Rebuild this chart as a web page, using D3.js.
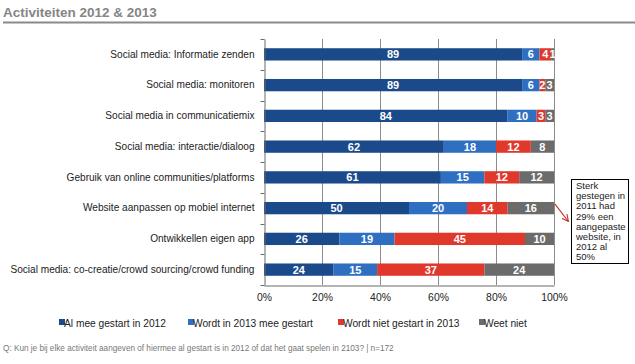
<!DOCTYPE html>
<html>
<head>
<meta charset="utf-8">
<script src="https://cdn.jsdelivr.net/npm/d3@7"></script>
<style>
  body { margin: 0; background: #fff; }
  svg { display: block; font-family: "Liberation Sans", Arial, sans-serif; }
</style>
</head>
<body>
<svg width="635" height="364"></svg>
<script>
const svg = d3.select('svg');
const width = +svg.attr('width');
const height = +svg.attr('height');
const FONT = '"Liberation Sans", Arial, sans-serif';

// data
const categories = [
  'Social media: Informatie zenden',
  'Social media: monitoren',
  'Social media in communicatiemix',
  'Social media: interactie/dialoog',
  'Gebruik van online communities/platforms',
  'Website aanpassen op mobiel internet',
  'Ontwikkellen eigen app',
  'Social media: co-creatie/crowd sourcing/crowd funding'
];
const seriesNames = ['Al mee gestart in 2012', 'Wordt in 2013 mee gestart', 'Wordt niet gestart in 2013', 'Weet niet'];
const alGestart = [89, 89, 84, 62, 61, 50, 26, 24];
const wordtGestart = [6, 6, 10, 18, 15, 20, 19, 15];
const nietGestart = [4, 2, 3, 12, 12, 14, 45, 37];
const weetNiet = [1, 3, 3, 8, 12, 16, 10, 24];
const xTicks = [0, 20, 40, 60, 80, 100];
const colors = ['#1b4a8b', '#2f6fc2', '#e0382b', '#6b6b6b'];
const noteLines = ['Sterk', 'gestegen in', '2011 had', '29% een', 'aangepaste', 'website, in', '2012 al', '50%'];

const margin = {top: 39, right: 81, bottom: 79, left: 264};
const x = d3.scaleLinear().domain([0, 100]).range([margin.left, width - margin.right]);
const y = d3.scaleBand().domain(categories).range([margin.top, height - margin.bottom]).paddingInner(0.6).paddingOuter(0.3);

const rows = categories.map((c, i) => ({cat: c, a: alGestart[i], b: wordtGestart[i], c: nietGestart[i], d: weetNiet[i]}));
const stacked = d3.stack().keys(['a', 'b', 'c', 'd'])(rows);

// title
svg.append('text')
  .attr('x', 3).attr('y', 17)
  .attr('fill', '#858585')
  .attr('font-size', 13.5).attr('font-weight', 'bold')
  .text('Activiteiten 2012 & 2013');
svg.append('line')
  .attr('x1', 3).attr('x2', width).attr('y1', 22.5).attr('y2', 22.5)
  .attr('stroke', '#8a8a8a').attr('stroke-width', 2);

// gridlines
svg.append('g').selectAll('line').data(xTicks.slice(1)).enter().append('line')
  .attr('x1', d => x(d) + 0.5).attr('x2', d => x(d) + 0.5)
  .attr('y1', margin.top).attr('y2', height - margin.bottom)
  .attr('stroke', '#8c8c8c').attr('stroke-width', 1);

// bars
const layer = svg.append('g').selectAll('g').data(stacked).enter().append('g')
  .attr('fill', (d, i) => colors[i]);
layer.selectAll('rect').data(d => d).enter().append('rect')
  .attr('x', d => x(d[0]))
  .attr('y', d => y(d.data.cat))
  .attr('width', d => x(d[1]) - x(d[0]))
  .attr('height', y.bandwidth());

// value labels
stacked.forEach(s => {
  svg.append('g').selectAll('text').data(s).enter().append('text')
    .attr('x', d => (x(d[0]) + x(d[1])) / 2)
    .attr('y', d => y(d.data.cat) + y.bandwidth() / 2 + 4)
    .attr('text-anchor', 'middle')
    .attr('fill', '#fff')
    .attr('font-size', 11).attr('font-weight', 'bold')
    .text(d => d[1] - d[0]);
});

// y axis
const yAxis = svg.append('g')
  .attr('transform', `translate(${margin.left + 0.5},0)`)
  .call(d3.axisLeft(y).tickSize(0).tickPadding(10));
yAxis.select('.domain').attr('stroke', '#6b6b6b');
yAxis.selectAll('text').attr('font-size', 10.1).attr('fill', '#222').attr('font-family', FONT);
// small ticks between categories
const bounds = categories.map(c => y(c) - y.step() * y.paddingInner() / 2).concat([height - margin.bottom]);
yAxis.selectAll('.sep').data(bounds).enter().append('line')
  .attr('x1', -4).attr('x2', 0)
  .attr('y1', d => Math.round(d) + 0.5).attr('y2', d => Math.round(d) + 0.5)
  .attr('stroke', '#6b6b6b');

// x axis
const xAxis = svg.append('g')
  .attr('transform', `translate(0,${height - margin.bottom + 0.5})`)
  .call(d3.axisBottom(x).tickValues(xTicks).tickFormat(d => d + '%').tickSize(0).tickPadding(8));
xAxis.select('.domain').attr('stroke', '#6b6b6b');
xAxis.selectAll('text').attr('font-size', 10.4).attr('fill', '#222').attr('font-family', FONT);

// legend
const legendX = [59, 188, 338, 479];
const legend = svg.append('g').selectAll('g').data(seriesNames).enter().append('g')
  .attr('transform', (d, i) => `translate(${legendX[i]},327)`);
legend.append('rect').attr('x', 0).attr('y', -8).attr('width', 6).attr('height', 6)
  .attr('fill', (d, i) => colors[i]);
legend.append('text').attr('x', 5).attr('y', 0)
  .attr('font-size', 10.2).attr('fill', '#222')
  .text(d => d);

// annotation
const bar6 = y(categories[5]) + y.bandwidth() / 2;
svg.append('defs').append('marker')
  .attr('id', 'arr').attr('viewBox', '0 0 10 10').attr('refX', 9).attr('refY', 5)
  .attr('markerWidth', 6).attr('markerHeight', 6).attr('orient', 'auto')
  .append('path').attr('d', 'M0,0L10,5L0,10').attr('fill', 'none').attr('stroke', '#c0392b').attr('stroke-width', 1.5);
svg.append('line')
  .attr('x1', x(100) + 1).attr('y1', bar6 - 4)
  .attr('x2', 568).attr('y2', 221)
  .attr('stroke', '#c0392b').attr('stroke-width', 1.2)
  .attr('marker-end', 'url(#arr)');
svg.append('rect')
  .attr('x', 571.5).attr('y', 179.5).attr('width', 57).attr('height', 84)
  .attr('fill', '#fff').attr('stroke', '#000').attr('stroke-width', 1);
svg.append('text')
  .attr('font-size', 9.5).attr('fill', '#222')
  .selectAll('tspan').data(noteLines).enter().append('tspan')
  .attr('x', 576).attr('y', (d, i) => 189 + i * 10.2)
  .text(d => d);

// footnote
svg.append('text')
  .attr('x', 3).attr('y', 351)
  .attr('font-size', 8.2).attr('fill', '#777')
  .text('Q: Kun je bij elke activiteit aangeven of hiermee al gestart is in 2012 of dat het gaat spelen in 2103? | n=172');
</script>
</body>
</html>
